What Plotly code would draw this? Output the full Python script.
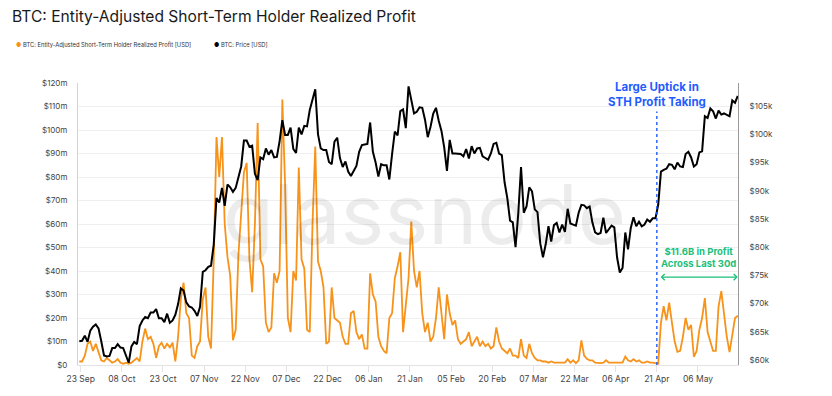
import pandas as pd
import plotly.graph_objects as go

START = "2024-09-22 12:00"

# BTC price, $k (daily, Sep 22 2024 -> May 20 2025)
price_k = [
    # Sep 22-30
    63.3, 63.4, 64.3, 63.2, 65.2, 65.9, 66.3, 65.6, 63.3,
    # Oct
    60.8, 60.6, 60.7, 62.1, 62.1, 62.8, 62.2, 62.1, 60.6, 59.5,
    62.4, 63.2, 62.8, 66.0, 67.0, 67.6, 67.4, 68.4, 68.4, 69.0,
    67.4, 67.4, 66.7, 68.2, 66.6, 67.0, 68.0, 69.9, 72.7, 72.3, 70.2,
    # Nov
    69.5, 69.3, 68.7, 67.8, 69.4, 75.6, 75.9, 76.5, 76.7, 80.5,
    88.7, 87.9, 90.5, 87.3, 91.1, 90.6, 89.8, 90.5, 92.3, 94.3,
    98.9, 98.9, 97.8, 98.0, 93.0, 91.9, 95.9, 95.6, 97.5, 96.4,
    # Dec
    97.2, 95.9, 96.0, 98.8, 102.5, 99.9, 99.9, 101.2, 97.4, 96.7,
    101.2, 100.0, 101.5, 101.4, 104.3, 106.1, 108.0, 100.0, 97.5, 97.2,
    97.2, 95.1, 94.7, 98.7, 99.4, 95.8, 94.2, 95.2, 93.4, 92.6, 93.4,
    # Jan
    94.4, 96.9, 98.1, 98.2, 98.3, 102.1, 96.9, 95.0, 92.5, 94.7,
    94.5, 94.5, 92.0, 96.5, 100.5, 99.8, 104.1, 104.4, 101.1, 108.5,
    106.1, 103.7, 104.0, 104.8, 104.7, 102.6, 99.5, 101.3, 103.7, 104.7, 102.4,
    # Feb
    100.6, 97.7, 93.5, 99.0, 96.6, 96.6, 96.5, 96.5, 96.1, 97.4,
    95.7, 97.9, 96.6, 97.5, 97.6, 96.1, 95.8, 95.5, 96.6, 98.3,
    98.5, 96.6, 96.3, 91.5, 88.7, 84.7, 84.4, 80.0,
    # Mar
    86.0, 94.2, 86.1, 87.2, 90.6, 89.9, 86.7, 86.2, 80.7, 78.2,
    80.5, 83.7, 81.0, 83.9, 84.3, 82.6, 84.0, 82.7, 86.8, 84.2,
    84.0, 83.8, 86.1, 87.5, 87.4, 86.9, 87.2, 84.4, 82.6, 82.3, 82.5,
    # Apr
    85.2, 82.5, 83.1, 83.8, 83.5, 78.2, 75.5, 76.3, 82.6, 79.6,
    83.4, 85.3, 83.7, 84.5, 83.7, 84.0, 84.9, 84.5, 85.1, 85.1,
    87.5, 93.4, 93.7, 93.9, 94.7, 94.6, 93.8, 95.0, 94.3, 94.2,
    # May 1-20
    96.5, 96.9, 95.9, 94.3, 94.7, 96.8, 97.0, 103.2, 102.9, 104.6,
    104.1, 102.8, 104.2, 103.5, 103.7, 103.5, 103.2, 106.0, 105.6, 106.8,
]

# Entity-adjusted STH realized profit, $m (daily)
profit_m = [
    # Sep 22-30
    1.5, 1.5, 4, 9, 10, 6, 9, 5, 2,
    # Oct
    1.5, 3, 2, 1, 1.5, 2.5, 1, 0.5, 1, 0.5,
    1, 2, 3, 1.5, 10, 15.5, 11, 12, 9, 3,
    8, 9.5, 7, 9, 7.5, 9.5, 1.5, 12, 28, 35, 22,
    # Nov
    20, 4, 3, 8, 10, 28, 33, 12, 7, 45,
    97, 80, 97, 60, 46, 38, 10.5, 15, 47, 66,
    82, 86, 45, 31, 60, 103, 45, 42, 18, 14,
    # Dec
    16, 39, 35, 40, 113, 77, 20, 14, 40, 36,
    84, 45, 41, 15, 14, 60, 93, 44, 40, 33,
    9, 10, 33, 20, 19, 18, 12, 9, 9, 22, 23,
    # Jan
    14, 11, 13, 7, 7, 39, 30, 27, 12, 8,
    6, 5, 20, 22, 37, 42, 48, 14, 25, 37,
    61, 40, 33, 40, 22, 14, 18, 10, 12, 20, 33,
    # Feb
    22, 11, 30, 22, 17, 19, 11, 9, 10, 11,
    14, 8, 10, 12, 8, 10, 8, 9, 7, 8,
    16, 10, 7, 6, 5, 7, 4, 4,
    # Mar
    3, 11, 4, 3, 9, 5, 3, 2, 2, 1.5,
    1.5, 1, 1.5, 1, 1, 1, 0.8, 1, 2.5, 1,
    2, 0.8, 2, 10.5, 4, 2.6, 2, 2, 1, 0.8, 0.8,
    # Apr
    1, 2, 1, 1, 1, 0.8, 1, 1, 3.6, 2,
    1.5, 2.5, 1.5, 2, 1, 1, 1.5, 1, 1, 0.8,
    0.6, 18, 25, 19, 26.5, 18, 10, 5.6, 6, 12,
    # May 1-20
    20, 15, 17, 3.5, 6, 15, 20, 28.5, 14, 10,
    6, 6, 25, 31.4, 22, 12, 5.5, 12, 20, 21,
]

left_ticks_m = [0, 10, 20, 30, 40, 50, 60, 70, 80, 90, 100, 110, 120]
right_ticks_k = [60, 65, 70, 75, 80, 85, 90, 95, 100, 105]
x_tick_dates = ["2024-09-23", "2024-10-08", "2024-10-23", "2024-11-07", "2024-11-22",
                "2024-12-07", "2024-12-22", "2025-01-06", "2025-01-21", "2025-02-05",
                "2025-02-20", "2025-03-07", "2025-03-22", "2025-04-06", "2025-04-21",
                "2025-05-06"]

assert len(price_k) == len(profit_m)
dates = pd.date_range(START, periods=len(price_k), freq="D")

ORANGE = "#f7931a"
BLUE = "#1f5cff"
GREEN = "#1cbf7a"
FONT = "Inter, Roboto, sans-serif"

# page body has an 8px default margin -> figure is 8px smaller than the window
W, H = 824, 388

fig = go.Figure()
fig.add_trace(go.Scatter(x=dates, y=profit_m, mode="lines", line=dict(color=ORANGE, width=1.8),
                         name="BTC: Entity-Adjusted Short-Term Holder Realized Profit [USD]",
                         showlegend=False, yaxis="y"))
fig.add_trace(go.Scatter(x=dates, y=price_k, mode="lines", line=dict(color="#000000", width=2),
                         name="BTC: Price [USD]", showlegend=False, yaxis="y2"))

fig.update_layout(
    width=W, height=H,
    margin=dict(l=70, r=94, t=75, b=26),
    paper_bgcolor="white", plot_bgcolor="white",
    font=dict(family=FONT, color="#444"),
    title=dict(text="BTC: Entity-Adjusted Short-Term Holder Realized Profit",
               x=4 / W, xanchor="left", xref="container",
               y=1 - 8.5 / H, yanchor="middle", yref="container",
               font=dict(size=15.6, color="#1a1a1a", family=FONT)),
    xaxis=dict(
        range=["2024-09-22 00:30", "2025-05-20 14:00"],
        tickvals=x_tick_dates, tickformat="%d %b",
        ticks="outside", ticklen=6, tickcolor="#e3e3e3",
        showgrid=False, showline=True, linecolor="#e3e3e3",
        tickfont=dict(size=8.5, color="#444"), zeroline=False,
    ),
    yaxis=dict(
        range=[0, 120], tickvals=left_ticks_m,
        ticktext=["$0" if v == 0 else f"${v}m" for v in left_ticks_m],
        showgrid=True, gridcolor="#efefef", gridwidth=1,
        showline=True, linecolor="#fcc999", zeroline=False,
        ticks="", ticklabelstandoff=8,
        tickfont=dict(size=8, color="#444"),
    ),
    yaxis2=dict(
        range=[59.1, 109.1], overlaying="y", side="right",
        tickvals=right_ticks_k, ticktext=[f"${v}k" for v in right_ticks_k],
        showgrid=False, showline=True, linecolor="#9a9a9a", zeroline=False,
        ticks="", ticklabelstandoff=9,
        tickfont=dict(size=8, color="#444"),
    ),
    showlegend=False,
)

# legend (as text items)
fig.add_annotation(xref="paper", yref="paper", x=(14 - 78) / 660, y=(370 - 44) / 287,
                   xanchor="left", yanchor="middle", showarrow=False,
                   text=f"<span style='color:{ORANGE}'>●</span> BTC: Entity-Adjusted Short-Term Holder Realized Profit [USD]",
                   font=dict(size=5.8, color="#333", family=FONT))
fig.add_annotation(xref="paper", yref="paper", x=(212 - 78) / 660, y=(370 - 44) / 287,
                   xanchor="left", yanchor="middle", showarrow=False,
                   text="<span style='color:#000'>●</span> BTC: Price [USD]",
                   font=dict(size=5.8, color="#333", family=FONT))

# watermark
fig.add_annotation(xref="paper", yref="paper", x=(424 - 78) / 660, y=(370 - 216) / 287,
                   xanchor="center", yanchor="middle", showarrow=False,
                   text="glassnode", font=dict(size=83, color="rgba(0,0,0,0.075)", family=FONT))

# vertical dotted line at 21 Apr
fig.add_shape(type="line", xref="x", yref="paper", x0="2025-04-21", x1="2025-04-21",
              y0=0, y1=(370 - 112) / 287, line=dict(color=BLUE, width=1.4, dash="dot"))

fig.add_annotation(xref="x", yref="paper", x="2025-04-21", y=(370 - 95) / 287,
                   xanchor="center", yanchor="middle", showarrow=False,
                   text="<b>Large Uptick in<br>STH Profit Taking</b>",
                   font=dict(size=11.5, color=BLUE, family=FONT))

fig.add_annotation(xref="paper", yref="paper", x=(698 - 78) / 660, y=(370 - 261) / 287,
                   xanchor="center", yanchor="middle", showarrow=False,
                   text="<b>$11.6B in Profit<br>Across Last 30d</b>",
                   font=dict(size=9.5, color=GREEN, family=FONT))

# double-headed arrow
fig.add_annotation(xref="x", yref="y", x="2025-05-20 12:00", y=37.4,
                   axref="x", ayref="y", ax="2025-04-21 20:00", ay=37.4,
                   text="", showarrow=True, arrowhead=4, arrowside="end+start",
                   arrowsize=1, arrowwidth=1.2, arrowcolor=GREEN)

fig.write_html("out.html")
